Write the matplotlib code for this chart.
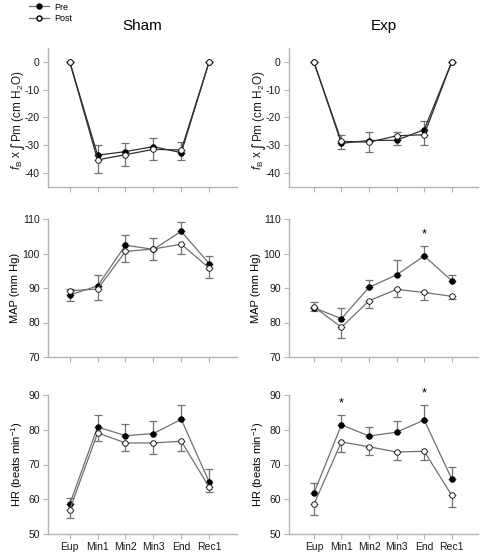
import matplotlib
matplotlib.use("Agg")
import matplotlib.pyplot as plt
from matplotlib.lines import Line2D
import numpy as np

plt.rcParams['font.family'] = ['Liberation Sans', 'DejaVu Sans']
plt.rcParams['mathtext.fontset'] = 'custom'
plt.rcParams['mathtext.rm'] = 'Liberation Sans'
plt.rcParams['mathtext.it'] = 'Liberation Sans:italic'
plt.rcParams['mathtext.bf'] = 'Liberation Sans:bold'
plt.rcParams['axes.unicode_minus'] = False

categories = ["Eup", "Min1", "Min2", "Min3", "End", "Rec1"]
group_titles = ["Sham", "Exp"]

# fb x integral Pm
sham_fb_pre = [0, -33.7, -32.4, -30.6, -32.8, 0]
sham_fb_pre_se = [0, 3.8, 3.0, 3.0, 2.7, 0]
sham_fb_pre_dir = [1, 1, 1, 1, -1, 1]
sham_fb_post = [0, -35.4, -33.5, -31.6, -31.8, 0]
sham_fb_post_se = [0, 4.6, 4.2, 3.7, 3.0, 0]
sham_fb_post_dir = [-1, -1, -1, -1, 1, -1]

exp_fb_pre = [0, -29.4, -28.4, -28.3, -24.5, 0]
exp_fb_pre_se = [0, 2.1, 2.9, 1.7, 3.0, 0]
exp_fb_pre_dir = [1, -1, 1, -1, 1, 1]
exp_fb_post = [0, -28.7, -29.0, -26.7, -26.3, 0]
exp_fb_post_se = [0, 2.4, 3.7, 1.5, 3.8, 0]
exp_fb_post_dir = [1, 1, -1, 1, -1, 1]

# MAP
sham_map_pre = [88.0, 90.6, 102.4, 101.2, 106.4, 97.1]
sham_map_pre_se = [1.8, 3.3, 2.9, 3.3, 2.6, 2.3]
sham_map_pre_dir = [-1, 1, 1, 1, 1, 1]
sham_map_post = [89.2, 89.7, 100.6, 101.3, 102.7, 95.8]
sham_map_post_se = [0.5, 3.1, 3.2, 3.3, 2.8, 2.9]
sham_map_post_dir = [1, -1, -1, -1, -1, -1]

exp_map_pre = [84.3, 81.1, 90.2, 93.8, 99.3, 92.1]
exp_map_pre_se = [0.9, 3.2, 2.2, 4.4, 2.9, 1.8]
exp_map_pre_dir = [-1, 1, 1, 1, 1, 1]
exp_map_post = [84.6, 78.6, 86.3, 89.6, 88.7, 87.6]
exp_map_post_se = [1.3, 3.1, 2.1, 2.3, 2.3, 0.9]
exp_map_post_dir = [1, -1, -1, -1, -1, -1]

# HR
sham_hr_pre = [58.6, 80.8, 78.3, 78.9, 83.0, 65.0]
sham_hr_pre_se = [1.8, 3.4, 3.3, 3.7, 4.1, 3.7]
sham_hr_post = [57.0, 79.1, 76.2, 76.2, 76.7, 63.5]
sham_hr_post_se = [2.3, 2.2, 2.4, 3.1, 2.9, 1.5]

exp_hr_pre = [61.7, 81.4, 78.2, 79.3, 82.8, 65.8]
exp_hr_pre_se = [3.1, 2.9, 2.6, 3.3, 4.2, 3.5]
exp_hr_post = [58.5, 76.5, 75.1, 73.6, 73.8, 61.1]
exp_hr_post_se = [3.0, 3.0, 2.4, 2.4, 2.5, 3.2]
hr_pre_dir = [1, 1, 1, 1, 1, 1]
hr_post_dir = [-1, -1, -1, -1, -1, -1]

exp_map_stars = [4]
exp_hr_stars = [1, 4]

fb_label_parts = [r"$\mathit{f}_\mathrm{B}$ x ", "\u222b", r"Pm (cm H$_2$O)"]
ylabels = [None, "MAP (mm Hg)", r"HR (beats min$^{-1}$)"]
ylims = [(-45, 5), (70, 110), (50, 90)]
yticks = [[0, -10, -20, -30, -40], [70, 80, 90, 100, 110], [50, 60, 70, 80, 90]]

W, H = 480, 553
fig = plt.figure(figsize=(W / 100, H / 100), dpi=100)

def fx(px):
    return px / W

def fy(py):
    return 1 - py / H

rows = [(48, 186.5), (219, 357), (395, 534)]
cols = [(48, 237, (-0.78, 6.0)), (289, 478, (-0.9, 5.95))]

LINE = '#707070'
SPINE = '#b4b4b4'
x = np.arange(len(categories))

def yerr(se, d):
    se = np.asarray(se, float)
    d = np.asarray(d)
    return np.vstack([np.where(d < 0, se, 0), np.where(d > 0, se, 0)])

panels = {
    (0, 0): (sham_fb_pre, sham_fb_pre_se, sham_fb_pre_dir, sham_fb_post, sham_fb_post_se, sham_fb_post_dir, []),
    (0, 1): (exp_fb_pre, exp_fb_pre_se, exp_fb_pre_dir, exp_fb_post, exp_fb_post_se, exp_fb_post_dir, []),
    (1, 0): (sham_map_pre, sham_map_pre_se, sham_map_pre_dir, sham_map_post, sham_map_post_se, sham_map_post_dir, []),
    (1, 1): (exp_map_pre, exp_map_pre_se, exp_map_pre_dir, exp_map_post, exp_map_post_se, exp_map_post_dir, exp_map_stars),
    (2, 0): (sham_hr_pre, sham_hr_pre_se, hr_pre_dir, sham_hr_post, sham_hr_post_se, hr_post_dir, []),
    (2, 1): (exp_hr_pre, exp_hr_pre_se, hr_pre_dir, exp_hr_post, exp_hr_post_se, hr_post_dir, exp_hr_stars),
}

renderer = fig.canvas.get_renderer()

def rotated_label(xb_px, yc_px):
    # place three rotated pieces sharing one baseline, centred at yc_px
    specs = [dict(fontsize=8.5), dict(fontsize=11, family='DejaVu Sans'), dict(fontsize=8.5)]
    texts = []
    for part, sp in zip(fb_label_parts, specs):
        t = fig.text(fx(xb_px), 0.5, part, rotation=90, rotation_mode='anchor',
                     ha='left', va='baseline', color='#1a1a1a', **sp)
        texts.append(t)
    lens = [t.get_window_extent(renderer).height for t in texts]
    total = sum(lens)
    ystart = (H - yc_px) - total / 2
    for t, L in zip(texts, lens):
        t.set_position((fx(xb_px), ystart / H))
        ystart += L

for r, (top, bot) in enumerate(rows):
    for c, (left, right, xl) in enumerate(cols):
        ax = fig.add_axes([fx(left), fy(bot), fx(right - left), fy(top) - fy(bot)])
        pre, pre_se, pre_d, post, post_se, post_d, stars = panels[(r, c)]
        lc = '#303030' if r == 0 else LINE
        ax.errorbar(x, pre, yerr=yerr(pre_se, pre_d), fmt='none', ecolor=LINE,
                    elinewidth=0.9, capsize=2.6, capthick=0.9, zorder=2)
        ax.errorbar(x, post, yerr=yerr(post_se, post_d), fmt='none', ecolor=LINE,
                    elinewidth=0.9, capsize=2.6, capthick=0.9, zorder=2)
        ax.plot(x, pre, '-', color=lc, lw=0.9, marker='o', ms=4.0,
                mfc='black', mec='black', mew=0.6, zorder=3)
        ax.plot(x, post, '-', color=lc, lw=0.9, marker='o', ms=4.0,
                mfc='white', mec='black', mew=0.6, zorder=4)
        for s in stars:
            ax.text(x[s], pre[s] + pre_se[s] + 3.4, '*', ha='center', va='center',
                    fontsize=9, color='black')
        ax.set_xlim(*xl)
        ax.set_ylim(*ylims[r])
        ax.set_yticks(yticks[r])
        ax.set_xticks(x)
        if r == 2:
            ax.set_xticklabels(categories)
        else:
            ax.set_xticklabels([])
        for sp in ['top', 'right']:
            ax.spines[sp].set_visible(False)
        for sp in ['left', 'bottom']:
            ax.spines[sp].set_color(SPINE)
            ax.spines[sp].set_linewidth(1.0)
        ax.tick_params(axis='both', direction='out', length=3.5, width=0.8,
                       color=SPINE, labelsize=7.5, labelcolor='#1a1a1a', pad=2.5)
        if r == 0:
            rotated_label(left - 27, (top + bot) / 2 + 3)
            ax.set_title(group_titles[c], fontsize=11, pad=13)
        else:
            ax.set_ylabel(ylabels[r], fontsize=8, labelpad=2)
        ax.patch.set_alpha(0)

handles = [Line2D([0], [0], color=LINE, lw=0.9, marker='o', ms=3.6, mfc='black', mec='black'),
           Line2D([0], [0], color=LINE, lw=0.9, marker='o', ms=3.6, mfc='white', mec='black')]
fig.legend(handles, ["Pre", "Post"], loc='upper left', bbox_to_anchor=(0.05, 1.005),
           frameon=False, fontsize=6.5, handlelength=2.2, labelspacing=0.25,
           borderpad=0.1, handletextpad=0.5)

fig.savefig("out.png", dpi=100)
